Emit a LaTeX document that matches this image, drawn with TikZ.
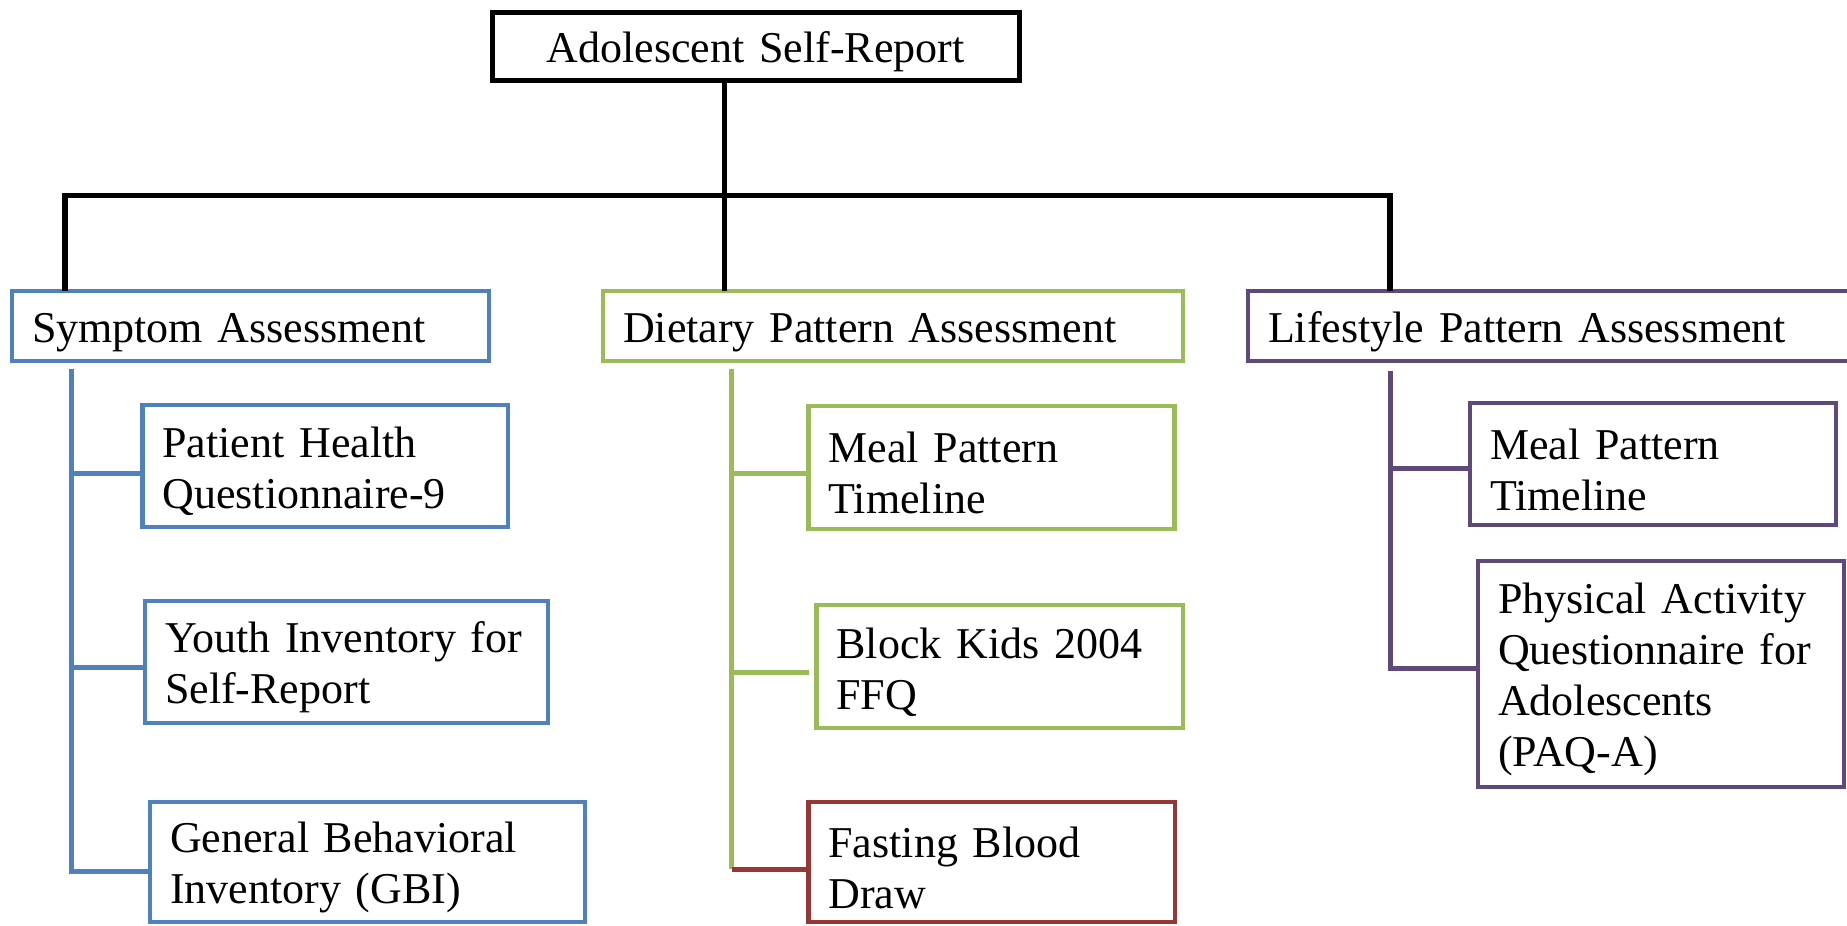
\documentclass[tikz,border=0pt]{standalone}
\usepackage{fontspec}
\setmainfont{Liberation Serif}
\definecolor{cblue}{HTML}{4F81BD}
\definecolor{cgreen}{HTML}{9BBB59}
\definecolor{cpurple}{HTML}{5F497A}
\definecolor{cred}{HTML}{953735}
\begin{document}
\begin{tikzpicture}[x=1pt,y=-1pt,
  box/.style={draw, rectangle, anchor=north west, line width=4.5pt, inner xsep=20pt, inner ysep=3pt, outer sep=0pt,
    font=\fontsize{44}{51}\selectfont, align=left, execute at begin node={\rule{0pt}{42pt}}},
  tree/.style={draw=black, line width=5.5pt},
  conn/.style={line width=5pt}]
\useasboundingbox (0,0) rectangle (1847,926);
% nodes
\node[box, draw=black, line width=5pt, align=center, text width=487pt, minimum height=68pt] (root) at (492,12) {Adolescent Self-Report};
\node[box, draw=cblue, text width=437pt, minimum height=70pt] (sym) at (12,291) {Symptom Assessment};
\node[box, draw=cgreen, text width=540pt, minimum height=70pt] (diet) at (603,291) {Dietary Pattern Assessment};
\node[box, draw=cpurple, text width=580pt, minimum height=70pt] (life) at (1248,291) {Lifestyle Pattern Assessment};
\node[box, draw=cblue, text width=325.5pt, minimum height=122pt] (phq) at (142.5,405) {Patient Health\\Questionnaire-9};
\node[box, draw=cblue, text width=363pt, minimum height=122pt] (yi) at (145,601) {Youth Inventory for\\Self-Report};
\node[box, draw=cblue, text width=395pt, minimum height=120pt] (gbi) at (150,802) {General Behavioral\\Inventory (GBI)};
\node[box, draw=cgreen, text width=326pt, minimum height=123pt] (mpt1) at (808.5,406) {Meal Pattern\\Timeline};
\node[box, draw=cgreen, text width=326.5pt, minimum height=123pt] (bk) at (816.5,605) {Block Kids 2004\\FFQ};
\node[box, draw=cred, text width=326.5pt, minimum height=120pt] (fbd) at (808.5,802) {Fasting Blood\\Draw};
\node[box, draw=cpurple, text width=326pt, minimum height=122pt] (mpt2) at (1470,403) {Meal Pattern\\Timeline};
\node[box, draw=cpurple, text width=326pt, minimum height=226pt] (paq) at (1478,561) {Physical Activity\\Questionnaire for\\Adolescents\\(PAQ-A)};
% black tree
\coordinate (j0) at (724.5,195.5);
\coordinate (jl) at (65,195.5);
\coordinate (jr) at (1390,195.5);
\draw[tree] (root.south -| j0) -- (j0);
\draw[tree] (sym.north -| jl) -- (jl) -- (jr) -- (life.north -| jr);
\draw[tree] (j0) -- (diet.north -| j0);
% blue branch
\coordinate (bt) at (71,369);
\coordinate (b1) at (71,473);
\coordinate (b2) at (71,667);
\coordinate (bb) at (71,871);
\draw[conn, cblue] (bt) -- (bb) -- (gbi.west |- bb);
\draw[conn, cblue] (b1) -- (phq.west |- b1);
\draw[conn, cblue] (b2) -- (yi.west |- b2);
% green branch
\coordinate (gt) at (731.5,369);
\coordinate (g1) at (731.5,473);
\coordinate (g2) at (731.5,672.5);
\coordinate (gb) at (731.5,869);
\draw[conn, cgreen] (gt) -- (gb);
\draw[conn, cgreen] (g1) -- (mpt1.west |- g1);
\draw[conn, cgreen] (g2) -- (mpt1.west |- g2);
\draw[conn, cred] (gb) -- (fbd.west |- gb);
% purple branch
\coordinate (pt) at (1390,371);
\coordinate (p1) at (1390,468);
\coordinate (pb) at (1390,668);
\draw[conn, cpurple] (pt) -- (pb) -- (paq.west |- pb);
\draw[conn, cpurple] (p1) -- (mpt2.west |- p1);
\end{tikzpicture}
\end{document}
